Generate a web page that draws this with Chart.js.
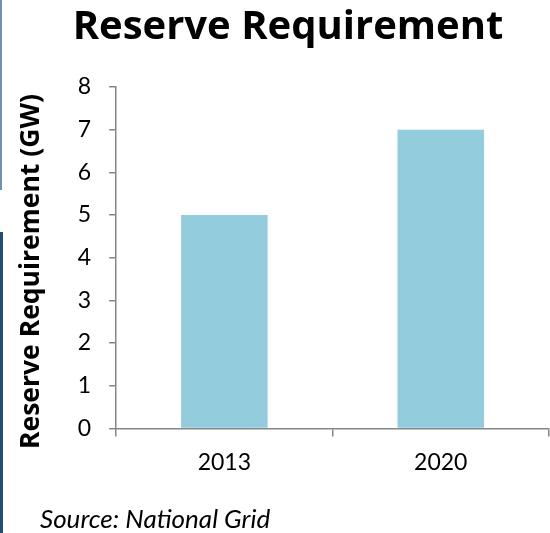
<!DOCTYPE html>
<html>
<head>
<meta charset="utf-8">
<script src="https://cdn.jsdelivr.net/npm/chart.js@4.4.0/dist/chart.umd.min.js"></script>
<style>
html,body{margin:0;padding:0;background:#fff;}
#wrap{position:relative;width:550px;height:533px;overflow:hidden;}
#rrChart{display:block;}
.edge-top{position:absolute;left:0;top:0;width:2px;height:190px;background:#6f8fb5;}
.edge-bot{position:absolute;left:0;top:232px;width:3px;height:301px;background:#1f4e79;}
</style>
</head>
<body>
<div id="wrap">
 <canvas id="rrChart" width="550" height="533"></canvas>
 <div class="edge-top"></div>
 <div class="edge-bot"></div>
</div>
<script>
const years=['2013','2020'];
const reserveGW=[5,7];
const yTicks=[0,1,2,3,4,5,6,7,8];
const titleText='Reserve Requirement';
const axisTitle='Reserve Requirement (GW)';
const sourceText='Source: National Grid';

const FONT='Lato, "Open Sans", sans-serif';
const BOLD='"Open Sans", Lato, sans-serif';
const AXIS='#868686';

// heading above the plot and the source note under it
const captions={
 id:'captions',
 afterDraw(c){
  const ctx=c.ctx;
  ctx.save();
  ctx.fillStyle='#000';
  ctx.textBaseline='alphabetic';
  ctx.textAlign='center';
  ctx.font='bold 40px '+BOLD;
  ctx.fillText(titleText,288,39);
  ctx.textAlign='left';
  ctx.font='italic 26px '+FONT;
  ctx.fillText(sourceText,40,528);
  ctx.restore();
 }
};

new Chart(document.getElementById('rrChart'),{
 type:'bar',
 data:{labels:years,datasets:[{data:reserveGW,backgroundColor:'#93cddd',borderWidth:0,categoryPercentage:1,barPercentage:0.4}]},
 options:{
  responsive:false,
  animation:false,
  layout:{padding:{top:87,right:1,bottom:45,left:16}},
  plugins:{legend:{display:false},tooltip:{enabled:false}},
  scales:{
   x:{
    offset:true,
    grid:{offset:true,drawOnChartArea:false,drawTicks:true,tickLength:8,color:AXIS,lineWidth:1.5},
    border:{color:AXIS,width:1.5},
    ticks:{color:'#000',font:{family:FONT,size:23},padding:12}
   },
   y:{
    min:yTicks[0],max:yTicks[yTicks.length-1],
    afterBuildTicks(s){s.ticks=yTicks.map(v=>({value:v}));},
    grid:{drawOnChartArea:false,tickLength:7,color:AXIS,lineWidth:1.5},
    border:{color:AXIS,width:1.5},
    ticks:{color:'#000',font:{family:FONT,size:23},padding:18},
    // trailing blanks push the rotated text a little toward the bottom
    title:{display:true,text:axisTitle+'\u00a0\u00a0\u00a0\u00a0',color:'#000',font:{family:BOLD,size:26.5,weight:'bold'},padding:{top:0,bottom:12}}
   }
  }
 },
 plugins:[captions]
});
</script>
</body>
</html>
